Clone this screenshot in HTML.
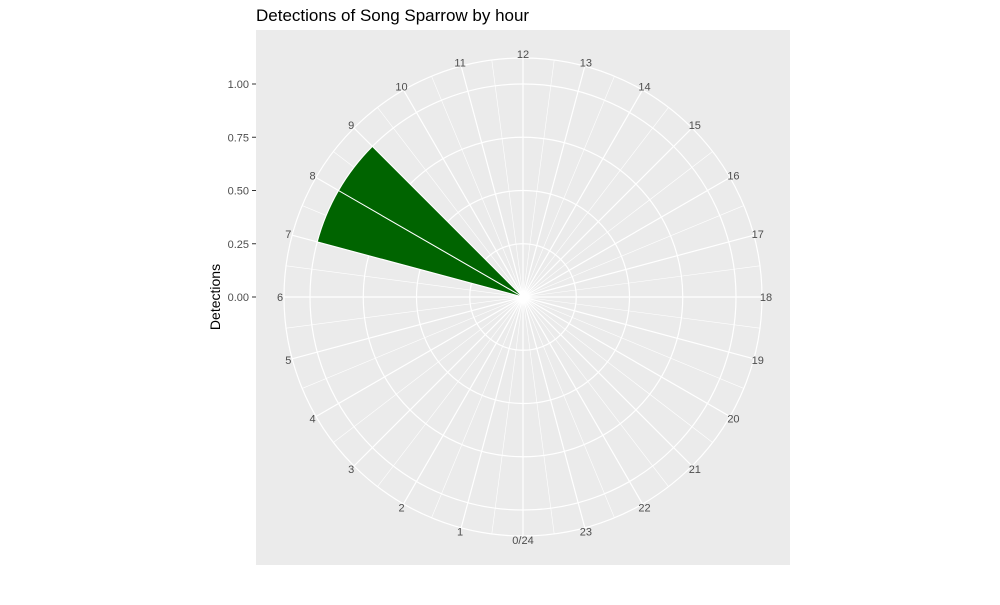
<!DOCTYPE html>
<html><head><meta charset="utf-8"><style>
body{margin:0;background:#fff;font-family:"Liberation Sans",Arial,sans-serif}
</style></head><body>
<svg width="1000" height="600" xmlns="http://www.w3.org/2000/svg">
<text x="256" y="21" font-size="17" fill="#000">Detections of Song Sparrow by hour</text>
<rect x="256" y="30" width="534" height="535" fill="#ebebeb"/>
<g id="grid"></g>
<g id="bars"></g>
<g id="labels"></g>
<g id="yaxis"></g>
<text transform="translate(220,297) rotate(-90)" text-anchor="middle" font-size="14" fill="#000">Detections</text>
</svg>
<script>
const barHours=[7,8];
const barValues=[1.0,1.0];
const yTicks=[0,0.25,0.5,0.75,1.0];
const yTickLabels=["0.00","0.25","0.50","0.75","1.00"];
const hourLabels=["0/24","1","2","3","4","5","6","7","8","9","10","11","12","13","14","15","16","17","18","19","20","21","22","23"];
const NS="http://www.w3.org/2000/svg";
const cx=523,cy=297,rUnit=213,rOuter=239;
function r(v){return v*rUnit;}
function pt(h,rad){const t=h/24*2*Math.PI;return [cx-rad*Math.sin(t),cy+rad*Math.cos(t)];}
function mk(tag,attrs,parent){const e=document.createElementNS(NS,tag);for(const k in attrs)e.setAttribute(k,attrs[k]);document.getElementById(parent).appendChild(e);return e;}
// circles
[...yTicks.slice(1)].forEach(v=>{const c=mk('circle',{cx:cx,cy:cy,r:r(v),fill:'none',stroke:'#fff','stroke-width':1.2},'grid');

});
const oc=mk('circle',{cx:cx,cy:cy,r:rOuter,fill:'none',stroke:'#fff','stroke-width':1.2},'grid');


// spokes
for(let i=0;i<48;i++){const h=i/2;const p=pt(h,rOuter);
const l=mk('line',{x1:cx,y1:cy,x2:p[0],y2:p[1],stroke:'#fff','stroke-width':i%2?0.6:1.2},'grid');

}
// bars
barHours.forEach((h,i)=>{const rad=r(barValues[i]);const a=pt(h,rad),b=pt(h+1,rad);
const p=mk('path',{d:`M${cx},${cy} L${a[0]},${a[1]} A${rad},${rad} 0 0 1 ${b[0]},${b[1]} Z`,fill:'#006400',stroke:'#fff','stroke-width':1},'bars');

});
// hour labels
hourLabels.forEach((s,h)=>{const p=pt(h,rOuter+4);
const t=mk('text',{x:p[0],y:p[1]+4,'text-anchor':'middle','font-size':11,fill:'#4d4d4d'},'labels');
t.textContent=s;

});
// y axis
yTicks.forEach((v,i)=>{const y=cy-r(v);
const t=mk('text',{x:249,y:y+4,'text-anchor':'end','font-size':11,fill:'#4d4d4d'},'yaxis');
t.textContent=yTickLabels[i];


const l=mk('line',{x1:252,y1:y,x2:256,y2:y,stroke:'#333','stroke-width':1},'yaxis');

});
</script>
</body></html>
